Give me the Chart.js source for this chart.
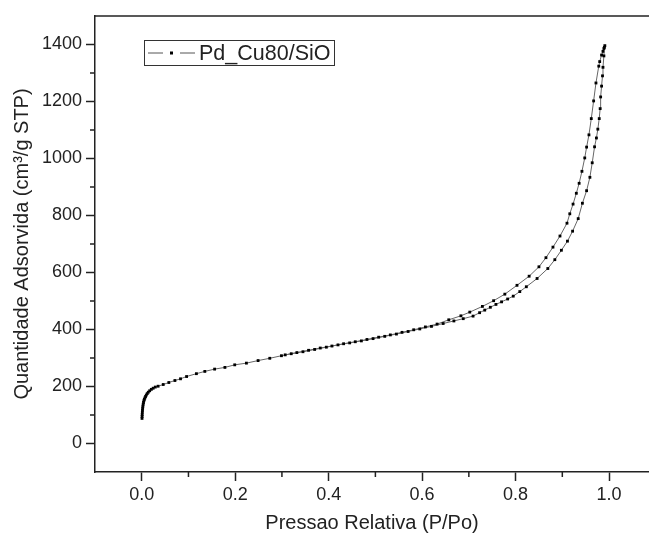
<!DOCTYPE html>
<html>
<head>
  <title>Isoterma Pd_Cu80/SiO</title>
  <script src="https://cdn.jsdelivr.net/npm/chart.js"></script>
  <style>
    body { margin: 0; background: #fff; overflow: hidden; }
  </style>
</head>
<body>
  <canvas id="isoChart" width="653" height="538"></canvas>

  <script>
    // adsorption branch (P/Po, cm3/g STP)
    const adsP = [0.0006, 0.0008, 0.0010, 0.0013, 0.0016, 0.0020, 0.0025, 0.0031, 0.0038, 0.0046,
      0.0056, 0.0068, 0.0082, 0.0098, 0.0117, 0.0140, 0.0170, 0.0205, 0.0245, 0.0290,
      0.035, 0.046, 0.058, 0.071, 0.083, 0.096,
      0.117, 0.135, 0.156, 0.178, 0.199, 0.224, 0.249, 0.274, 0.299,
      0.320, 0.345, 0.370, 0.395, 0.420, 0.445, 0.470, 0.495, 0.520, 0.545, 0.570, 0.595, 0.620, 0.645,
      0.668, 0.688, 0.709, 0.723, 0.734, 0.746, 0.758, 0.770, 0.783, 0.795, 0.809, 0.823, 0.846, 0.869,
      0.884, 0.898, 0.911, 0.922, 0.934, 0.943, 0.952, 0.959, 0.964, 0.969, 0.973, 0.976, 0.979, 0.981,
      0.982, 0.984, 0.986, 0.987, 0.989, 0.990];
    const adsQ = [88, 95, 102, 110, 117, 124, 131, 138, 144, 150,
      155, 160, 165, 170, 175, 180, 185, 190, 194, 198,
      201, 207, 214, 221, 227, 235,
      245, 253, 261, 267, 276, 282, 291, 299, 308,
      315, 322, 330, 338, 346, 353, 360, 368, 376, 384, 393, 402, 411, 421,
      430, 438, 447, 459, 468, 478, 488, 497, 507, 517, 533, 550, 579, 614,
      645, 678, 710, 745, 789, 843, 887, 934, 985, 1041, 1072, 1103, 1140, 1175,
      1216, 1254, 1290, 1320, 1360, 1390];

    // desorption branch
    const desP = [0.991, 0.989, 0.987, 0.984, 0.980, 0.978, 0.972, 0.967, 0.962, 0.957,
      0.952, 0.948, 0.942, 0.936, 0.930, 0.923, 0.916, 0.910, 0.895, 0.880,
      0.865, 0.850, 0.829, 0.803, 0.777, 0.753, 0.729, 0.702, 0.683, 0.657,
      0.632, 0.607, 0.582, 0.557, 0.532, 0.507, 0.482, 0.457, 0.432, 0.407,
      0.382, 0.357, 0.332, 0.307];
    const desQ = [1396, 1386, 1376, 1363, 1340, 1324, 1265, 1202, 1140, 1083,
      1040, 1002, 955, 913, 878, 840, 806, 773, 728, 689,
      652, 620, 587, 555, 524, 501, 481, 461, 448, 434,
      419, 409, 399, 390, 381, 373, 365, 357, 350, 342,
      335, 327, 319, 311];

    const seriesLabel = 'Pd_Cu80/SiO';
    const xTicks = [0, 0.2, 0.4, 0.6, 0.8, 1.0];
    const xMinor = [0.1, 0.3, 0.5, 0.7, 0.9];
    const yTicks = [0, 200, 400, 600, 800, 1000, 1200, 1400];
    const yMinor = [100, 300, 500, 700, 900, 1100, 1300];

    const ink = '#222';
    const font = 'Liberation Sans, Arial, sans-serif';

    const points = adsP.map((p, i) => ({ x: p, y: adsQ[i] }))
      .concat(desP.map((p, i) => ({ x: p, y: desQ[i] })));

    // top frame line, minor ticks, legend box
    const decor = {
      id: 'decor',
      afterDraw(chart) {
        const ctx = chart.ctx;
        const area = chart.chartArea;
        const xs = chart.scales.x;
        const ys = chart.scales.y;
        ctx.save();
        ctx.strokeStyle = ink;
        ctx.lineWidth = 1.5;
        ctx.beginPath();
        ctx.moveTo(area.left, area.top);
        ctx.lineTo(area.right, area.top);
        ctx.stroke();

        ctx.beginPath();
        xMinor.forEach(v => {
          const px = xs.getPixelForValue(v);
          ctx.moveTo(px, area.bottom);
          ctx.lineTo(px, area.bottom + 5);
        });
        yMinor.forEach(v => {
          const py = ys.getPixelForValue(v);
          ctx.moveTo(area.left, py);
          ctx.lineTo(area.left - 5, py);
        });
        ctx.stroke();

        // legend
        const lx = area.left + 49, ly = area.top + 24, lw = 190, lh = 25;
        ctx.lineWidth = 1;
        ctx.strokeStyle = '#333';
        ctx.strokeRect(lx + 0.5, ly + 0.5, lw, lh);
        const cy = ly + lh / 2 + 0.5;
        ctx.strokeStyle = '#555';
        ctx.beginPath();
        ctx.moveTo(lx + 4, cy); ctx.lineTo(lx + 19, cy);
        ctx.moveTo(lx + 36, cy); ctx.lineTo(lx + 51, cy);
        ctx.stroke();
        ctx.fillStyle = '#000';
        ctx.fillRect(lx + 26, cy - 1.5, 3, 3);
        ctx.fillStyle = ink;
        ctx.font = '21.5px ' + font;
        ctx.textBaseline = 'middle';
        ctx.fillText(chart.data.datasets[0].label, lx + 55, cy + 1);
        ctx.restore();
      }
    };

    new Chart(document.getElementById('isoChart').getContext('2d'), {
      type: 'scatter',
      data: {
        datasets: [{
          label: seriesLabel,
          data: points,
          showLine: true,
          borderColor: '#666',
          borderWidth: 1,
          pointStyle: 'rect',
          pointRadius: 2,
          pointBackgroundColor: '#000',
          pointBorderWidth: 0,
          tension: 0
        }]
      },
      options: {
        responsive: false,
        animation: false,
        events: [],
        layout: { padding: { top: 16, right: 0, left: 0, bottom: 0 } },
        plugins: {
          legend: { display: false },
          tooltip: { enabled: false }
        },
        scales: {
          x: {
            type: 'linear',
            min: -0.1,
            max: 1.0855,
            afterBuildTicks: s => { s.ticks = xTicks.map(v => ({ value: v })); },
            afterFit: s => { s.height = 66; },
            border: { display: true, color: ink, width: 1.5 },
            grid: { drawOnChartArea: false, tickLength: 9, tickColor: ink, tickWidth: 1.5 },
            ticks: {
              color: ink,
              font: { family: font, size: 18 },
              padding: 3,
              maxRotation: 0,
              callback: v => v.toFixed(1)
            },
            title: {
              display: true,
              text: 'Pressao Relativa (P/Po)',
              color: ink,
              font: { family: font, size: 20 },
              padding: { top: 0, bottom: 3 }
            }
          },
          y: {
            min: -100,
            max: 1500,
            afterBuildTicks: s => { s.ticks = yTicks.map(v => ({ value: v })); },
            afterFit: s => { s.width = 95; },
            border: { display: true, color: ink, width: 1.5 },
            grid: { drawOnChartArea: false, tickLength: 9, tickColor: ink, tickWidth: 1.5 },
            ticks: {
              color: ink,
              font: { family: font, size: 18 },
              padding: 4,
              callback: v => String(v)
            },
            title: {
              display: true,
              text: 'Quantidade Adsorvida (cm³/g STP)',
              color: ink,
              font: { family: font, size: 20 },
              padding: { top: 10, bottom: 0 }
            }
          }
        }
      },
      plugins: [decor]
    });
  </script>
</body>
</html>
